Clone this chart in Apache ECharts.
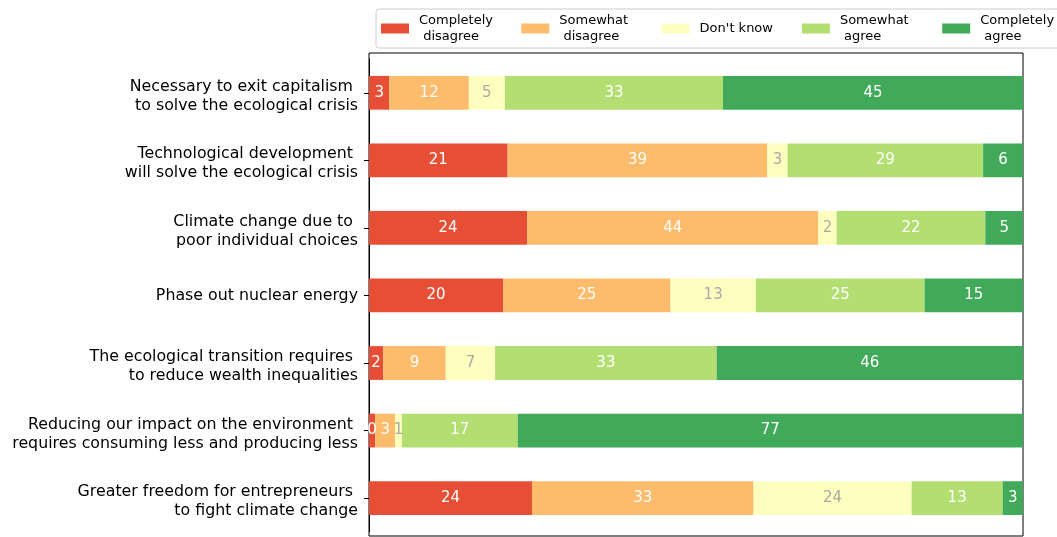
<!DOCTYPE html>
<html>
<head>
<meta charset="utf-8">
<script src="https://cdn.jsdelivr.net/npm/echarts@6/dist/echarts.min.js"></script>
<style>html,body{margin:0;padding:0;background:#fff}#c{width:1057px;height:537px}</style>
</head>
<body>
<div id="c"></div>
<script>
const categories = [
  "Necessary to exit capitalism \nto solve the ecological crisis",
  "Technological development \nwill solve the ecological crisis",
  "Climate change due to \npoor individual choices",
  "Phase out nuclear energy",
  "The ecological transition requires \nto reduce wealth inequalities",
  "Reducing our impact on the environment \nrequires consuming less and producing less",
  "Greater freedom for entrepreneurs \nto fight climate change"
];
const seriesNames = ["Completely\n disagree", "Somewhat\n disagree", "Don't know", "Somewhat\n agree", "Completely\n agree"];
const completelyDisagree = [3.12, 21.2, 24.17, 20.5, 2.17, 0.95, 24.92];
const somewhatDisagree   = [12.15, 39.7, 44.54, 25.6, 9.57, 3.05, 33.88];
const dontKnow           = [5.50, 3.1, 2.79, 13.05, 7.54, 1.02, 24.17];
const somewhatAgree      = [33.36, 29.9, 22.74, 25.8, 33.88, 17.72, 13.92];
const completelyAgree    = [45.87, 6.1, 5.76, 15.05, 46.84, 77.26, 3.11];
const colors = ["#e64f35", "#fdbb6c", "#feffbe", "#b3df72", "#40aa5a"];
const labelColors = ["#ffffff", "#ffffff", "#a9a9a9", "#ffffff", "#ffffff"];

const FONT = "DejaVu Sans";
const allValues = [completelyDisagree, somewhatDisagree, dontKnow, somewhatAgree, completelyAgree];

const chart = echarts.init(document.getElementById('c'), null, {renderer: 'canvas'});
chart.setOption({
  animation: false,
  color: colors,
  legend: {
    left: 376, top: 9, width: 760,
    padding: [4, 5, 4, 5],
    itemWidth: 28, itemHeight: 10, itemGap: 6.3,
    icon: 'rect',
    selectedMode: false,
    borderColor: '#cccccc', borderWidth: 1, borderRadius: 3,
    data: seriesNames,
    textStyle: {fontFamily: FONT, fontSize: 13, lineHeight: 15.5, color: '#000', width: 96, padding: [0, 0, 0, 5]}
  },
  grid: [
    {left: 369, right: 34, top: 59, height: 472.9, containLabel: false},
    {left: 369, right: 34, top: 53, bottom: 1, show: true, borderColor: '#000', borderWidth: 1, backgroundColor: 'transparent'}
  ],
  xAxis: [
    {type: 'value', gridIndex: 0, min: 0, max: 100, show: false},
    {type: 'value', gridIndex: 1, show: false}
  ],
  yAxis: [
    {
      type: 'category', gridIndex: 0, data: categories, inverse: true,
      axisLine: {show: true, lineStyle: {color: '#000', width: 1}},
      axisTick: {show: true, alignWithLabel: true, length: 5, lineStyle: {color: '#000', width: 1}},
      axisLabel: {
        fontFamily: FONT, fontSize: 15.8, lineHeight: 19, color: '#000', margin: 11, align: 'right', padding: [1, 0, 0, 0],
        formatter: v => v.indexOf('\n') >= 0 ? '{g| }\n' + v : v,
        rich: {g: {fontSize: 1, lineHeight: 6, height: 6}}
      },
      splitLine: {show: false}
    },
    {type: 'value', gridIndex: 1, show: false}
  ],
  series: seriesNames.map((name, i) => ({
    name: name,
    type: 'bar',
    stack: 'total',
    xAxisIndex: 0, yAxisIndex: 0,
    barCategoryGap: '50%',
    itemStyle: {color: colors[i]},
    label: {
      show: true, position: 'inside',
      color: labelColors[i], fontFamily: FONT, fontSize: 15,
      formatter: p => String(Math.floor(p.value))
    },
    data: allValues[i]
  }))
});
</script>
</body>
</html>
